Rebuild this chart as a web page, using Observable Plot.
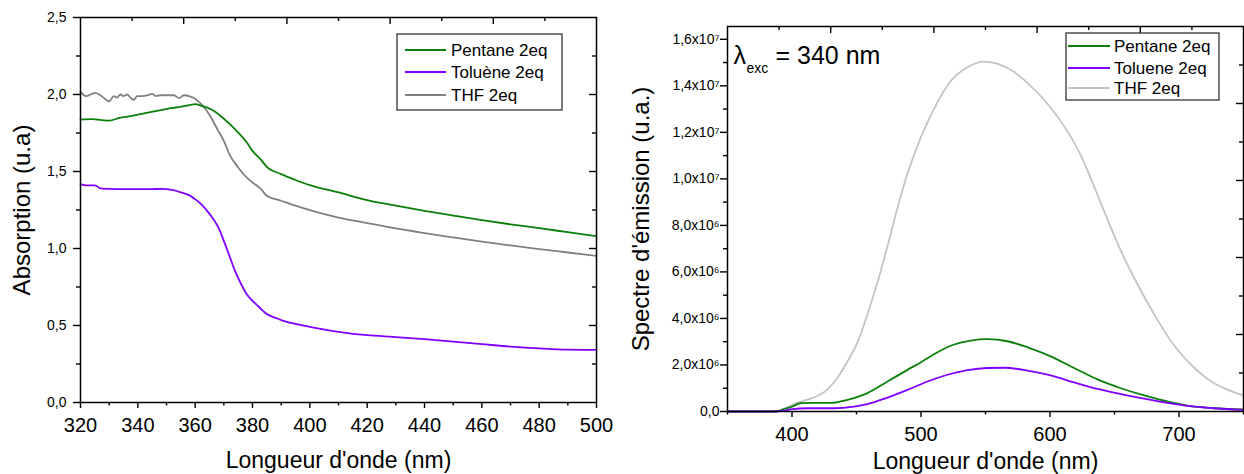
<!DOCTYPE html>
<html><head><meta charset="utf-8">
<script src="https://cdn.jsdelivr.net/npm/d3@7"></script>
<script src="https://cdn.jsdelivr.net/npm/@observablehq/plot@0.6"></script>
<style>
html,body{margin:0;padding:0;background:#fff;}
#wrap{position:relative;width:1244px;height:474px;overflow:hidden;background:#fff;}
.chart{position:absolute;top:0;}
.legend{position:absolute;}
</style>
</head><body>
<div id="wrap"></div>
<script>
// ---------- Absorption (left) ----------
const pentaneAbsX = [320,323.7,326,330,333.9,337.4,340.9,344.4,348,351.5,354.9,358.4,360.2,361.9,364.2,366.6,368.9,371.8,375,378,380,383,385,390,395,400,410,420,430,440,450,460,470,480,490,500];
const pentaneAbsY = [1.837,1.84,1.837,1.83,1.85,1.859,1.872,1.885,1.898,1.911,1.92,1.933,1.937,1.928,1.915,1.893,1.86,1.812,1.753,1.688,1.634,1.575,1.53,1.483,1.445,1.411,1.364,1.314,1.278,1.245,1.214,1.184,1.157,1.132,1.106,1.08];
const tolueneAbsX = [320,322,325,327,330,335,340,345,348,352,355,358,360,362,365,368,370,372,374,376,378,380,382,385,388,390,395,400,410,420,430,440,450,460,470,480,490,500];
const tolueneAbsY = [1.418,1.41,1.41,1.39,1.387,1.385,1.385,1.386,1.387,1.38,1.365,1.345,1.32,1.29,1.225,1.14,1.05,0.95,0.85,0.77,0.703,0.66,0.625,0.574,0.55,0.535,0.51,0.491,0.459,0.437,0.425,0.411,0.395,0.379,0.363,0.351,0.343,0.342];
const thfAbsX = [320,322,323.9,325,326.5,328,330,331.6,332.7,333.9,335,336.3,337.4,338.6,339.8,341.5,343.3,345,346.2,348,350.3,352.6,354.4,356.1,357.9,359.6,361.4,363.1,364.9,366.6,367.8,370,372,375,378,380,383,385,390,395,400,410,420,430,440,450,460,470,480,490,500];
const thfAbsY = [2.017,1.989,2.004,2.01,2.0,1.98,1.955,1.99,1.98,2.0,1.99,2.0,1.98,1.965,1.99,1.99,1.995,2.004,1.99,1.995,1.995,1.995,1.977,1.995,1.99,1.977,1.95,1.917,1.87,1.815,1.772,1.699,1.61,1.526,1.46,1.429,1.385,1.342,1.31,1.278,1.249,1.201,1.165,1.13,1.10,1.072,1.045,1.02,0.996,0.974,0.952];
const absXMajor = [320,340,360,380,400,420,440,460,480,500];
const absXMinor = [330,350,370,390,410,430,450,470,490];
const absYMajor = [0,0.5,1.0,1.5,2.0,2.5];
const absYMinor = [0.25,0.75,1.25,1.75,2.25];
const absLegend = ["Pentane 2eq","Toluène 2eq","THF 2eq"];

// ---------- Emission (right) ----------
const pentaneEmX = [350,380,388,395,400,406.8,417,430,443,458.5,474,489.5,500,512.8,525.7,538.6,551.5,567,582.6,600.6,618.7,636.8,655,673,691,706.6,727,750];
const pentaneEmY = [0,0,0.01,0.12,0.21,0.36,0.37,0.37,0.5,0.79,1.29,1.79,2.12,2.55,2.88,3.05,3.11,3.02,2.76,2.37,1.87,1.38,1.0,0.69,0.43,0.25,0.14,0.09].map(v => v * 1e6);
const tolueneEmX = [350,388,395,400,412,432.7,448,458.5,474,489.5,505,520.5,536,551.5,564.5,582.6,600.6,618.7,636.8,655,673,691,706.6,727,750];
const tolueneEmY = [0,0,0.05,0.1,0.14,0.14,0.21,0.32,0.6,0.93,1.29,1.58,1.78,1.87,1.88,1.76,1.55,1.25,0.97,0.75,0.55,0.37,0.24,0.14,0.07].map(v => v * 1e6);
const thfEmX = [350,380,388,395,400,409,417,427,435,443,451,458,466,474,482,490,500,510,523,536,549,559,572,585,600,614,624,634,645,655,668,681,694,700,712,725,738,750];
const thfEmY = [0,0,0.02,0.15,0.29,0.46,0.6,0.93,1.43,2.15,3.0,4.1,5.5,7.1,8.8,10.3,11.8,13.0,14.2,14.8,15.04,14.95,14.6,14.0,13.1,12.0,11.0,9.7,8.2,6.9,5.45,4.16,3.01,2.58,1.87,1.29,0.93,0.69].map(v => v * 1e6);
const emXMajor = [400,500,600,700];
const emXMinor = [350,450,550,650,750];
const emYMajor = [0,2e6,4e6,6e6,8e6,1e7,1.2e7,1.4e7,1.6e7];
const emYMinor = [1e6,3e6,5e6,7e6,9e6,1.1e7,1.3e7,1.5e7];
const emLegend = ["Pentane 2eq","Toluene 2eq","THF 2eq"];

const GREEN = "#0a800a", PURPLE = "#8000ff", GREY = "#808080", LIGHTGREY = "#c4c4c4";
const FONT = "'Liberation Sans', Arial, sans-serif";

const zip = (xs, ys) => xs.map((x, i) => ({x, y: ys[i]}));
const sup = {"6": "\u2076", "7": "\u2077"};
const fmtAbs = d => d.toFixed(1).replace(".", ",");
const fmtEm = d => {
  if (d === 0) return "0,0";
  const e = Math.floor(Math.log10(d) + 1e-9);
  return (d / Math.pow(10, e)).toFixed(1).replace(".", ",") + "x10" + sup[String(e)];
};

// mirrored (inward) ticks at 10% fractions of a domain
function fracTicks(domain, odd) {
  const out = [];
  for (let k = 1; k < 10; k++) if ((k % 2 === 1) === odd) out.push(domain[0] + (domain[1] - domain[0]) * k / 10);
  return out;
}

function chart(opts) {
  const {width, height, mL, mR, mT, mB, xDomain, yDomain, series, xMajor, xMinor, yMajor, yMinor, yFmt, yFontSize, yPad, yLabel, yLabelDx, xLabelDy, extra} = opts;
  const fw = width - mL - mR, fh = height - mT - mB;
  return Plot.plot({
    width, height, marginLeft: mL, marginRight: mR, marginTop: mT, marginBottom: mB,
    x: {domain: xDomain, label: null},
    y: {domain: yDomain, label: null},
    style: {fontFamily: FONT, color: "#000", background: "transparent", overflow: "visible"},
    marks: [
      ...series.map(s => Plot.line(zip(s.x, s.y), {x: "x", y: "y", stroke: s.color, strokeWidth: 1.8, curve: "monotone-x"})),
      Plot.frame({stroke: "#000", strokeWidth: 1.5}),
      // bottom axis (outward)
      Plot.axisX({ticks: xMajor, tickSize: 6, tickPadding: 9, tickFormat: d => String(d), fontSize: 20, label: null, strokeWidth: 1.4}),
      Plot.axisX({ticks: xMinor, tickSize: 3.5, tickFormat: () => "", label: null, strokeWidth: 1.4}),
      // left axis (outward)
      Plot.axisY({ticks: yMajor, tickSize: 7, tickPadding: yPad, tickFormat: yFmt, fontSize: yFontSize, label: null, strokeWidth: 1.4}),
      Plot.axisY({ticks: yMinor, tickSize: 4, tickFormat: () => "", label: null, strokeWidth: 1.4}),
      // top axis (inward, mirrored at 10% steps)
      Plot.tickX(fracTicks(xDomain, false), {x: d => d, insetBottom: fh - 7, stroke: "#000", strokeWidth: 1.4}),
      Plot.tickX(fracTicks(xDomain, true), {x: d => d, insetBottom: fh - 4, stroke: "#000", strokeWidth: 1.4}),
      // right axis (inward)
      Plot.tickY(fracTicks(yDomain, false), {y: d => d, insetLeft: fw - 7, stroke: "#000", strokeWidth: 1.4}),
      Plot.tickY(fracTicks(yDomain, true), {y: d => d, insetLeft: fw - 4, stroke: "#000", strokeWidth: 1.4}),
      // axis titles
      Plot.text([yLabel], {frameAnchor: "left", rotate: -90, dx: yLabelDx, fontSize: 24, lineAnchor: "middle", textAnchor: "middle", fill: "#000"}),
      Plot.text(["Longueur d'onde (nm)"], {frameAnchor: "bottom", dy: xLabelDy, fontSize: 23, lineAnchor: "middle", fill: "#000"}),
      ...(extra || [])
    ]
  });
}

const wrap = document.getElementById("wrap");

const left = chart({
  width: 620, height: 474, mL: 80, mR: 24, mT: 17, mB: 72,
  xDomain: [320, 500], yDomain: [0, 2.5],
  series: [
    {x: thfAbsX, y: thfAbsY, color: GREY},
    {x: pentaneAbsX, y: pentaneAbsY, color: GREEN},
    {x: tolueneAbsX, y: tolueneAbsY, color: PURPLE}
  ],
  xMajor: absXMajor, xMinor: absXMinor, yMajor: absYMajor, yMinor: absYMinor,
  yFmt: fmtAbs, yFontSize: 14, yPad: 7,
  yLabel: "Absorption (u.a)", yLabelDx: -58, xLabelDy: 58.5
});
left.classList.add("chart");
left.style.left = "0px";
wrap.appendChild(left);

const right = chart({
  width: 624, height: 474, mL: 107, mR: 1, mT: 26, mB: 63,
  xDomain: [350, 750], yDomain: [0, 1.655e7],
  series: [
    {x: thfEmX, y: thfEmY, color: LIGHTGREY},
    {x: pentaneEmX, y: pentaneEmY, color: GREEN},
    {x: tolueneEmX, y: tolueneEmY, color: PURPLE}
  ],
  xMajor: emXMajor, xMinor: emXMinor, yMajor: emYMajor, yMinor: emYMinor,
  yFmt: fmtEm, yFontSize: 14, yPad: 1,
  yLabel: "Spectre d'émission (u.a.)", yLabelDx: -86, xLabelDy: 50,
  extra: [
    Plot.text(["λ"], {frameAnchor: "top-left", dx: 6, dy: 37, fontSize: 25, textAnchor: "start", lineAnchor: "bottom", fill: "#000"}),
    Plot.text(["exc"], {frameAnchor: "top-left", dx: 19, dy: 46, fontSize: 14, textAnchor: "start", lineAnchor: "bottom", fill: "#000"}),
    Plot.text(["= 340 nm"], {frameAnchor: "top-left", dx: 48, dy: 37, fontSize: 25, textAnchor: "start", lineAnchor: "bottom", fill: "#000"})
  ]
});
right.classList.add("chart");
right.style.left = "620px";
wrap.appendChild(right);

// ---------- Legends ----------
function legend(names, colors, box) {
  const svg = d3.create("svg")
    .attr("class", "legend")
    .attr("width", box.w + 2).attr("height", box.h + 2)
    .style("left", (box.x - 1) + "px").style("top", (box.y - 1) + "px");
  svg.append("rect").attr("x", 1).attr("y", 1).attr("width", box.w).attr("height", box.h)
    .attr("fill", "#fff").attr("stroke", "#333").attr("stroke-width", 1.3);
  names.forEach((n, i) => {
    const y = 1 + box.rows[i];
    svg.append("line").attr("x1", 1 + box.l1).attr("x2", 1 + box.l2).attr("y1", y).attr("y2", y)
      .attr("stroke", colors[i]).attr("stroke-width", 2);
    svg.append("text").attr("x", 1 + box.tx).attr("y", y).attr("dy", "0.35em")
      .attr("font-family", FONT).attr("font-size", 17).attr("fill", "#000").text(n);
  });
  wrap.appendChild(svg.node());
}
legend(absLegend, [GREEN, PURPLE, GREY], {x: 397, y: 34, w: 165, h: 76, rows: [16, 38, 61], l1: 8, l2: 49, tx: 54});
legend(emLegend, [GREEN, PURPLE, LIGHTGREY], {x: 1066, y: 33, w: 153, h: 67, rows: [13, 35, 55], l1: 2, l2: 44, tx: 48});
</script>
</body></html>
